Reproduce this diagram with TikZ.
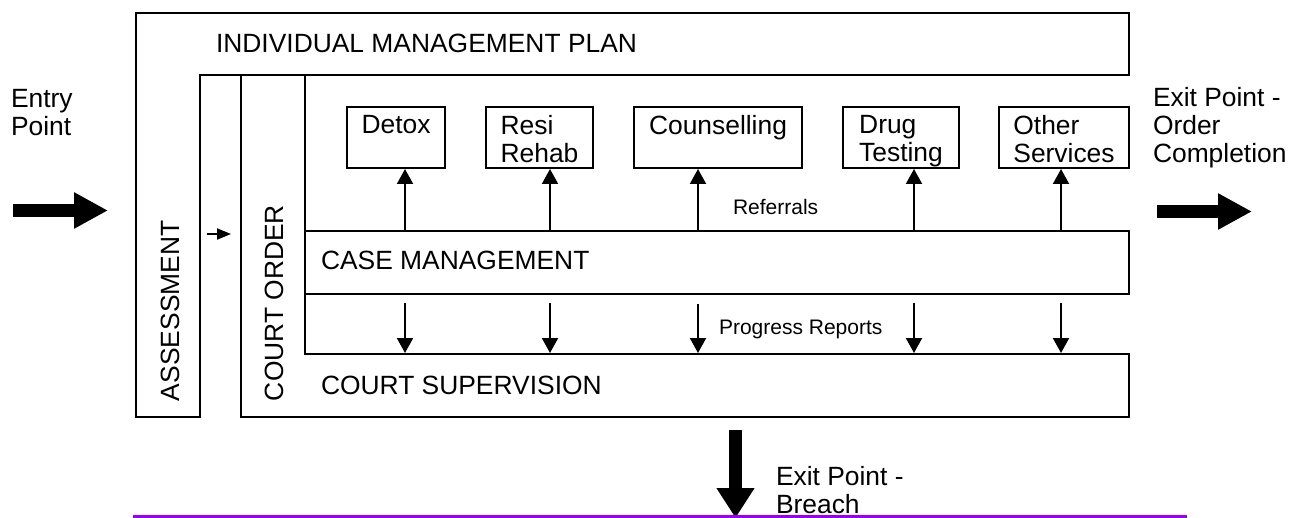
\documentclass[tikz,border=0pt]{standalone}
\usepackage{fontspec}
\setmainfont{Liberation Sans}
\usetikzlibrary{arrows.meta,calc}
\definecolor{violetline}{RGB}{150,0,245}
\begin{document}
\begin{tikzpicture}[x=0.5pt,y=-0.5pt, line width=1pt,
  big/.style={font=\fontsize{13.2pt}{14pt}\selectfont, inner sep=0pt},
  small/.style={font=\fontsize{10.5pt}{12pt}\selectfont, inner sep=0pt},
  svc/.style={draw, minimum height=30.5pt, inner sep=0pt},
  thinarrow/.style={-{Triangle[width=8pt,length=7.5pt]}},
  block/.style={line width=6.5pt, -{Triangle[width=17pt,length=17pt]}},
  ]
\useasboundingbox (0,0) rectangle (1300,518);

% frames
\draw (136,13) -- (1129,13) -- (1129,75) -- (200,75) -- (200,417) -- (136,417) -- cycle;
\draw (241,75) -- (241,417) -- (1129,417) -- (1129,354) -- (305,354) -- (305,75);

% service boxes
\node[svc, minimum width=49pt] (detox) at (396,137.5) {};
\node[svc, minimum width=53.5pt] (resi) at (539.5,137.5) {};
\node[svc, minimum width=84pt] (couns) at (718,137.5) {};
\node[svc, minimum width=58pt] (drug) at (901,137.5) {};
\node[svc, minimum width=65pt] (other) at (1064,137.5) {};

\node[big, anchor=north, align=left] (detoxT) at (396,114.5) {Detox};
\node[big, anchor=north, align=left] (resiT) at (539.5,114.5) {Resi\\Rehab};
\node[big, anchor=north, align=left] (counsT) at (718,114.5) {Counselling};
\node[big, anchor=north, align=left] (drugT) at (901,114.5) {Drug\\Testing};
\node[big, anchor=north, align=left] (otherT) at (1064,114.5) {Other\\Services};

% case management and court supervision
\node[draw, minimum width=412pt, minimum height=31.5pt, inner sep=0pt] (cm) at (717,262.5) {};
\node[minimum width=412pt, minimum height=31.5pt, inner sep=0pt] (cs) at (717,385.5) {};

% referral arrows
\coordinate (a1) at (405,0);
\coordinate (a2) at (550,0);
\coordinate (a3) at (698,0);
\coordinate (a4) at (914,0);
\coordinate (a5) at (1061,0);
\draw[thinarrow] (cm.north -| a1) -- (detox.south -| a1);
\draw[thinarrow] (cm.north -| a2) -- (resi.south -| a2);
\draw[thinarrow] (cm.north -| a3) -- (couns.south -| a3);
\draw[thinarrow] (cm.north -| a4) -- (drug.south -| a4);
\draw[thinarrow] (cm.north -| a5) -- (other.south -| a5);

% progress report arrows
\coordinate (d1) at (405,303);
\coordinate (d2) at (550,303);
\coordinate (d3) at (698,304);
\coordinate (d4) at (914,303);
\coordinate (d5) at (1061,303);
\draw[thinarrow] (d1) -- (cs.north -| d1);
\draw[thinarrow] (d2) -- (cs.north -| d2);
\draw[thinarrow] (d3) -- (cs.north -| d3);
\draw[thinarrow] (d4) -- (cs.north -| d4);
\draw[thinarrow] (d5) -- (cs.north -| d5);

% small arrow assessment -> court order
\coordinate (sa) at (207,234);
\coordinate (sb) at (231,234);
\draw[-{Triangle[width=5.5pt,length=7pt]}] (sa) -- (sb);

% block arrows
\coordinate (inS) at (13,210.5);
\coordinate (inE) at (108,210.5);
\draw[block] (inS) -- (inE);
\coordinate (outS) at (1157,211.5);
\coordinate (outE) at (1252,211.5);
\draw[block] (outS) -- (outE);
\coordinate (brS) at (735.5,430);
\coordinate (brE) at (735.5,518);
\draw[line width=6.5pt, -{Triangle[width=18pt,length=15pt]}] (brS) -- (brE);

% purple line
\coordinate (pl1) at (133,517);
\coordinate (pl2) at (1187,517);
\draw[violetline, line width=2pt] (pl1) -- (pl2);

% texts
\node[big, anchor=base west] (imp) at (215,53) {INDIVIDUAL MANAGEMENT PLAN};
\node[big, anchor=base west, rotate=90] (assess) at (179,402) {ASSESSMENT};
\node[big, anchor=base west, rotate=90] (corder) at (283,402) {COURT ORDER};
\node[big, anchor=base west] (cmT) at (320,270) {CASE MANAGEMENT};
\node[big, anchor=base west] (csT) at (320,394) {COURT SUPERVISION};
\node[small, anchor=base west] (ref) at (732,214) {Referrals};
\node[small, anchor=base west] (prog) at (718,334) {Progress Reports};
\node[big, anchor=north west, align=left] (entry) at (10,88) {Entry\\Point};
\node[big, anchor=north west, align=left] (exitR) at (1152,86.5) {Exit Point -\\Order\\Completion};
\node[big, anchor=north west, align=left] (exitB) at (775,465.5) {Exit Point -\\Breach};
\end{tikzpicture}
\end{document}
